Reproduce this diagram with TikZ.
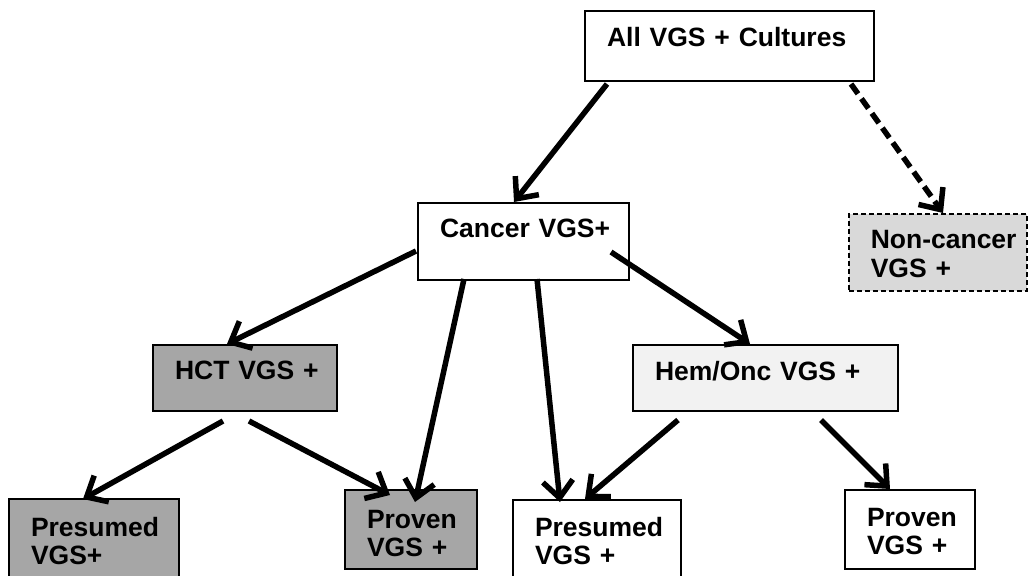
\documentclass[tikz,border=0pt]{standalone}
\usepackage{fontspec}
\setmainfont{Liberation Sans}
\usetikzlibrary{arrows.meta,positioning,calc}
\definecolor{hctGray}{RGB}{166,166,166}
\definecolor{hemOncGray}{RGB}{242,242,242}
\definecolor{nonCancerGray}{RGB}{217,217,217}
\newcommand{\boxfont}{\fontsize{26.5}{28.5}\selectfont\bfseries\hyphenpenalty=10000\exhyphenpenalty=10000}

\begin{document}
\begin{tikzpicture}[
            x=1pt, y=-1pt,
            block/.style={rectangle, draw, line width=2pt, anchor=north west, inner xsep=22pt, inner ysep=0pt, align=left, font=\boxfont},
            arrow/.style={-{Straight Barb[length=17pt,width=30pt]}, line width=5.5pt},
            dasharrow/.style={arrow, dash pattern=on 12pt off 6pt}
        ]
            \useasboundingbox (0,0) rectangle (1029,576);
            \clip (0,0) rectangle (1029,576);

            \node[block, fill=white, text width=245pt, text height=35pt, text depth=35pt] (all) at (584,10) {All~VGS~+~Cultures};
            \node[block, fill=white, text width=167pt, text height=34pt, text depth=43pt] (cancer) at (417,202) {Cancer~VGS+};
            \node[block, fill=nonCancerGray, line width=1.5pt, dash pattern=on 5pt off 3pt, text width=134pt, text height=35pt, text depth=42pt] (noncancer) at (848,213) {Non-cancer\\VGS~+};
            \node[block, fill=hctGray, text width=140pt, text height=34pt, text depth=32pt] (hct) at (152,344) {HCT~VGS~+};
            \node[block, fill=hemOncGray, text width=221pt, text height=35pt, text depth=31pt] (hemonc) at (632,344) {Hem/Onc~VGS~+};
            \node[block, fill=hctGray, text width=126pt, text height=37pt, text depth=60pt] (hctpres) at (8,498) {Presumed\\VGS+};
            \node[block, fill=hctGray, text width=88pt, text height=38pt, text depth=41pt] (hctprov) at (344,489) {Proven\\VGS~+};
            \node[block, fill=white, text width=124pt, text height=36pt, text depth=60pt] (hopres) at (512,499) {Presumed\\VGS~+};
            \node[block, fill=white, text width=86pt, text height=36pt, text depth=43pt] (hoprov) at (844,489) {Proven\\VGS~+};

            \draw[arrow] ($(all.south west)+(23,2)$) -- ($(cancer.north west)+(97,0)$);
            \draw[dasharrow] ($(all.south east)+(-24,2)$) -- ($(noncancer.north west)+(95,0)$);
            \draw[arrow] ($(cancer.south west)+(-1,-30)$) -- ($(hct.north west)+(75,0)$);
            \draw[arrow] ($(cancer.south west)+(47,-2)$) -- ($(hctprov.north west)+(71,13)$);
            \draw[arrow] ($(cancer.south west)+(120,-2)$) -- ($(hopres.north west)+(48,3)$);
            \draw[arrow] ($(cancer.south east)+(-19,-29)$) -- ($(hemonc.north west)+(118,0)$);
            \draw[arrow] ($(hct.south west)+(71,9)$) -- ($(hctpres.north west)+(75,1)$);
            \draw[arrow] ($(hct.south west)+(97,9)$) -- ($(hctprov.north west)+(46,6)$);
            \draw[arrow] ($(hemonc.south west)+(46,8)$) -- ($(hopres.north west)+(73,0)$);
            \draw[arrow] ($(hemonc.south west)+(189,8)$) -- ($(hoprov.north west)+(46,0)$);
        \end{tikzpicture}
\end{document}
